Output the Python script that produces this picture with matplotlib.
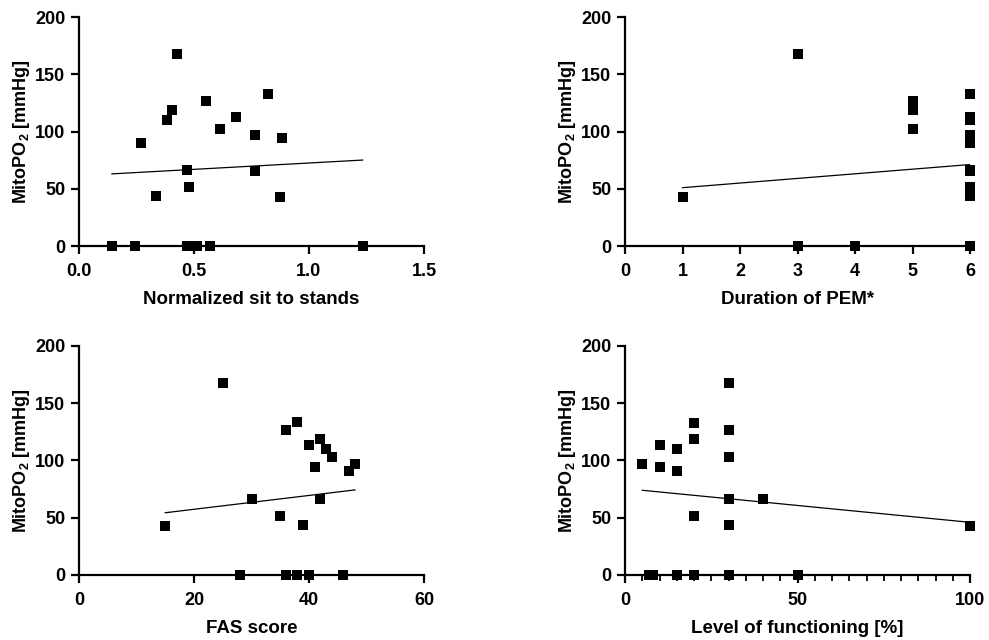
import numpy as np
import matplotlib
matplotlib.use("Agg")
import matplotlib.pyplot as plt
from matplotlib.ticker import MultipleLocator

plt.rcParams["font.family"] = ["Liberation Sans", "DejaVu Sans"]
plt.rcParams["font.weight"] = "bold"
plt.rcParams["mathtext.fontset"] = "custom"
plt.rcParams["mathtext.rm"] = "Liberation Sans:bold"
plt.rcParams["mathtext.bf"] = "Liberation Sans:bold"

# panel A: normalized sit to stands
sts_x = [0.427, 0.822, 0.553, 0.404, 0.383, 0.683, 0.611, 0.765, 0.881, 0.268,
         0.471, 0.767, 0.477, 0.333, 0.872, 0.143, 0.245, 0.468, 0.512, 0.568, 1.233]
sts_y = [167.4, 132.7, 126.6, 118.8, 110.0, 113.0, 102.5, 97.0, 94.0, 90.2,
         66.0, 65.8, 51.3, 43.7, 42.5, 0, 0, 0, 0, 0, 0]

# panel B: duration of PEM (several points overlap)
pem_x = [1, 3, 5, 5, 5, 6, 6, 6, 6, 6, 6, 6, 6, 6, 6, 3, 4, 4, 6, 6, 6]
pem_y = [42.5, 167.4, 126.6, 118.8, 102.5,
         132.7, 113.0, 110.0, 97.0, 94.0, 90.2, 66.0, 65.8, 51.3, 43.7, 0, 0, 0, 0, 0, 0]

# panel C: FAS score
fas_x = [25, 38, 36, 42, 40, 43, 44, 41, 48, 47, 30, 42, 35, 39, 15, 28, 36, 36, 38, 40, 46]
fas_y = [168.0, 133.6, 126.9, 119.0, 113.5, 110.3, 102.8, 94.3, 97.2, 90.5,
         66.4, 66.4, 51.8, 44.0, 43.1, 0, 0, 0, 0, 0, 0]

# panel D: level of functioning
lof_x = [5, 10, 10, 15, 15, 20, 20, 20, 30, 30, 30, 30, 30, 40, 100, 7, 8, 15, 20, 30, 50]
lof_y = [97.2, 113.3, 94.3, 110.3, 90.8, 133.0, 119.0, 51.5, 168.0, 126.6,
         102.8, 66.4, 44.0, 66.4, 43.1, 0, 0, 0, 0, 0, 0]

panels = [
    (sts_x, sts_y, "Normalized sit to stands", (0, 1.5), 0.5, None, "{:.1f}"),
    (pem_x, pem_y, "Duration of PEM*", (0, 6), 1, None, "{:.0f}"),
    (fas_x, fas_y, "FAS score", (0, 60), 20, None, "{:.0f}"),
    (lof_x, lof_y, "Level of functioning [%]", (0, 100), 50, 5, "{:.0f}"),
]

fig = plt.figure(figsize=(9.89, 6.4), dpi=100)
positions = [
    [0.0799, 0.6156, 0.3488, 0.3578],
    [0.632, 0.6156, 0.3488, 0.3578],
    [0.0799, 0.1016, 0.3488, 0.3578],
    [0.632, 0.1016, 0.3488, 0.3578],
]

for pos, (xs, ys, xlabel, xlim, major, minor, fmt) in zip(positions, panels):
    ax = fig.add_axes(pos)
    xs = np.array(xs, dtype=float)
    ys = np.array(ys, dtype=float)
    ax.scatter(xs, ys, marker="s", s=46, color="black", zorder=3, clip_on=False,
               linewidths=0)
    # simple linear regression across the data range
    slope, icpt = np.polyfit(xs, ys, 1)
    lx = np.array([xs.min(), xs.max()])
    ax.plot(lx, slope * lx + icpt, color="black", lw=0.9, zorder=2)

    ax.set_xlim(*xlim)
    ax.set_ylim(0, 200)
    ax.xaxis.set_major_locator(MultipleLocator(major))
    if minor:
        ax.xaxis.set_minor_locator(MultipleLocator(minor))
        ax.tick_params(axis="x", which="minor", length=4, width=1.3)
    ax.yaxis.set_major_locator(MultipleLocator(50))
    ax.set_xticklabels([fmt.format(v) for v in ax.get_xticks()])
    for s in ["top", "right"]:
        ax.spines[s].set_visible(False)
    for s in ["left", "bottom"]:
        ax.spines[s].set_linewidth(1.6)
    ax.tick_params(axis="both", which="major", length=6, width=1.6,
                   labelsize=13, pad=4)
    ax.tick_params(axis="x", which="major", pad=6)
    for lab in ax.get_xticklabels() + ax.get_yticklabels():
        lab.set_fontweight("bold")
    ax.set_xlabel(xlabel, fontsize=13.5, fontweight="bold", labelpad=8)
    ax.set_ylabel(r"MitoPO$_\mathbf{2}$ [mmHg]", fontsize=13, fontweight="bold",
                  labelpad=2)

fig.savefig("out.png", dpi=100)
